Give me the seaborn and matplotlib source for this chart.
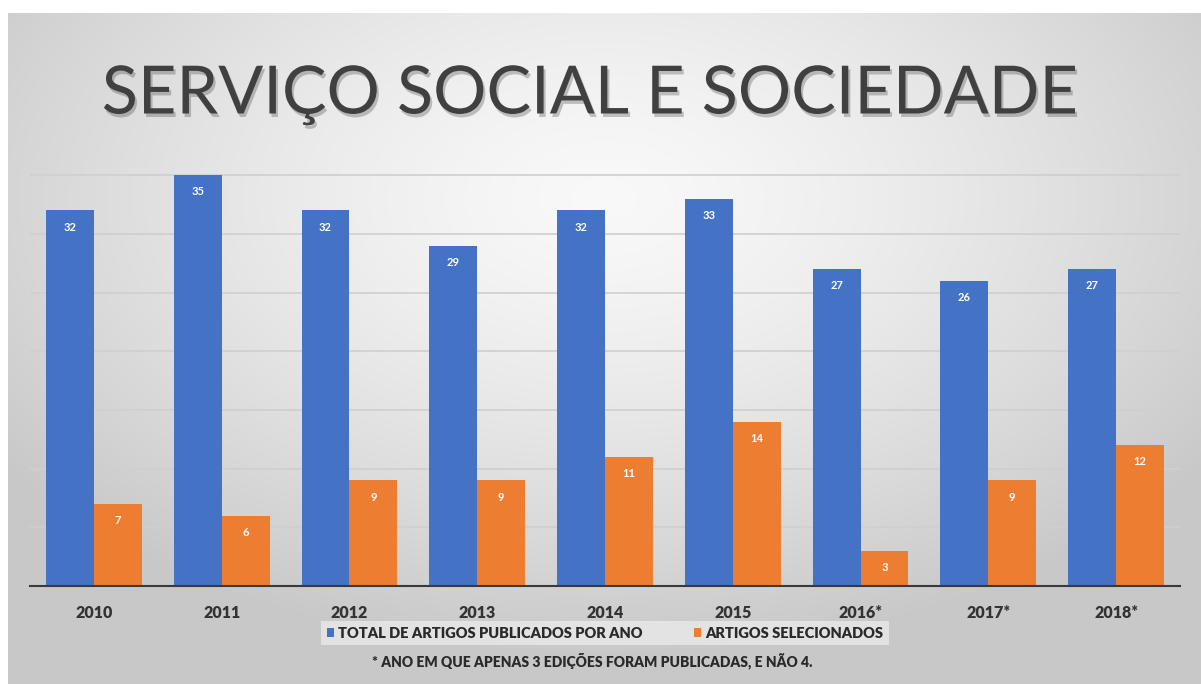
import numpy as np
import pandas as pd
import matplotlib
matplotlib.use("Agg")
import matplotlib.pyplot as plt
import matplotlib.patheffects as pe
from matplotlib.patches import Patch
import seaborn as sns

years = ["2010", "2011", "2012", "2013", "2014", "2015", "2016*", "2017*", "2018*"]
total_publicados = [32, 35, 32, 29, 32, 33, 27, 26, 27]
selecionados = [7, 6, 9, 9, 11, 14, 3, 9, 12]
series_names = ["TOTAL DE ARTIGOS PUBLICADOS POR ANO", "ARTIGOS SELECIONADOS"]
title = "SERVIÇO SOCIAL E SOCIEDADE"
footnote = "* ANO EM QUE APENAS 3 EDIÇÕES FORAM PUBLICADAS, E NÃO 4."

df = pd.DataFrame({
    "ano": years * 2,
    "valor": total_publicados + selecionados,
    "serie": [series_names[0]] * len(years) + [series_names[1]] * len(years),
})

sns.set_theme(style="white")
plt.rcParams["font.family"] = ["Lato", "DejaVu Sans"]

W, H = 1201, 684
fig = plt.figure(figsize=(W / 100, H / 100), dpi=100)
fig.patch.set_facecolor("white")

# radial gradient background
bg = fig.add_axes([8 / W, 0, 1 - 8 / W, 1 - 13 / H], zorder=-10)
gx = np.linspace(-1, 1, 400)
gy = np.linspace(-1, 1, 240)
X, Y = np.meshgrid(gx, gy)
R = np.sqrt((X / 1.0) ** 2 + ((Y + 0.45) / 1.1) ** 2)
R = np.clip(R / 1.25, 0, 1)
vals = 0.975 - 0.19 * R ** 1.4
bg.imshow(np.dstack([vals, vals, vals]), aspect="auto", extent=[0, 1, 0, 1], origin="upper")
bg.set_axis_off()

ax = fig.add_axes([30 / W, (H - 586) / H, 1150 / W, 412 / H])
ax.set_facecolor("none")
palette = {series_names[0]: "#4472C4", series_names[1]: "#ED7D31"}
sns.barplot(data=df, x="ano", y="valor", hue="serie", hue_order=series_names,
            palette=palette, width=0.75, saturation=1, ax=ax, legend=False, zorder=3,
            linewidth=0)

for cont in ax.containers:
    ax.bar_label(cont, labels=[f"{int(v)}" for v in cont.datavalues], padding=-16,
                 color="white", fontweight="bold", fontsize=8, zorder=5)

ax.set_ylim(0, 35.1)
ax.set_xlim(-0.5, len(years) - 0.5)
ax.set_yticks(np.arange(0, 36, 5))
ax.yaxis.grid(True, color="#cfcfcf", linewidth=1.2, zorder=0)
ax.set_axisbelow(True)
ax.tick_params(axis="y", left=False, labelleft=False)
ax.tick_params(axis="x", bottom=False, pad=8, labelsize=11.5, colors="#333333")
for lbl in ax.get_xticklabels():
    lbl.set_fontweight("heavy")
ax.set_xlabel("")
ax.set_ylabel("")
for s in ["top", "right", "left"]:
    ax.spines[s].set_visible(False)
ax.spines["bottom"].set_color("#3a3a3a")
ax.spines["bottom"].set_linewidth(1.5)
ax.spines["bottom"].set_zorder(4)

handles = [Patch(facecolor=palette[n], edgecolor="none") for n in series_names]
leg = fig.legend(handles, series_names, loc="center", bbox_to_anchor=(605 / W, 1 - 633 / H),
                 ncol=2, frameon=True, fontsize=10.5, handlelength=0.5, handleheight=0.6,
                 handletextpad=0.3, columnspacing=3.5, borderpad=0.35, borderaxespad=0)
leg.get_frame().set_facecolor("#f4f4f4")
leg.get_frame().set_alpha(0.6)
leg.get_frame().set_edgecolor("none")
leg.get_frame().set_boxstyle("square", pad=0.0)
for t in leg.get_texts():
    t.set_fontweight("heavy")
    t.set_color("#2a2a2a")

fig.text(592 / W, 1 - 661 / H, footnote, ha="center", va="center", fontsize=10,
         fontweight="heavy", color="#2a2a2a")

fig.text(590 / W, 1 - 95 / H, title, ha="center", va="center", fontsize=48,
         color="#404040",
         path_effects=[pe.SimplePatchShadow(offset=(1.5, -2.5), shadow_rgbFace="#000000", alpha=0.22),
                       pe.Normal()])

fig.savefig("out.png", dpi=100)
